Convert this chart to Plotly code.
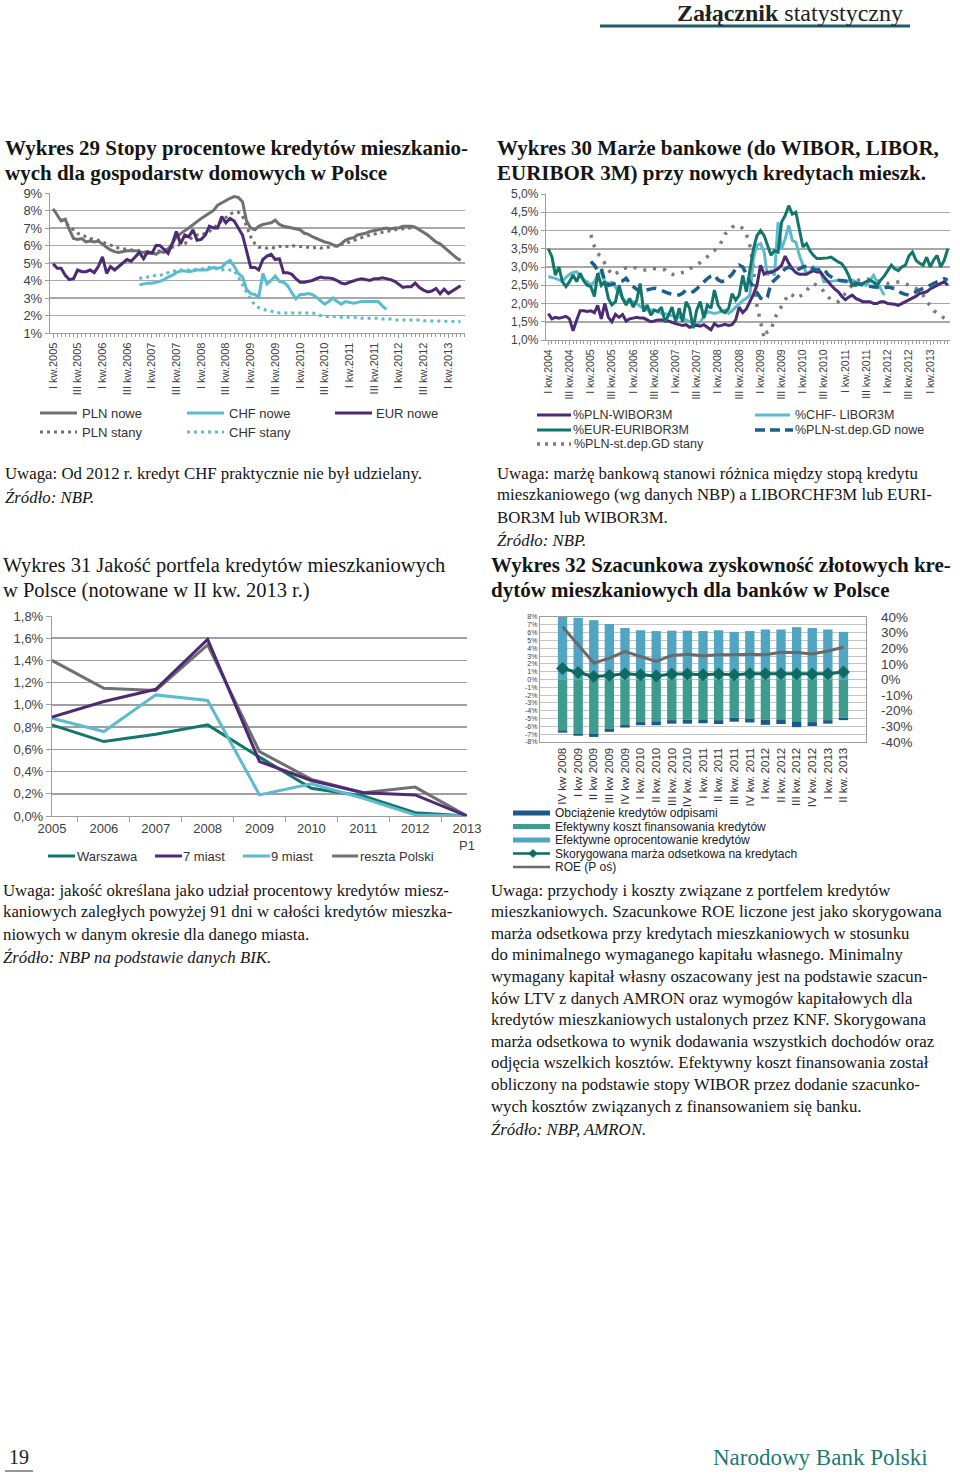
import plotly.graph_objects as go
import pandas as pd

W, H = 960, 1474
SANS = "Liberation Sans, Arial, sans-serif"
SERIF = "Liberation Serif, Times New Roman, serif"

GRAY = "#6f7072"
LBLUE = "#5dbbd0"
PURPLE = "#4e2a74"
TEAL = "#13766a"
DBLUE = "#1c5f8f"
DOTGRAY = "#7b7b7b"
BAR_LB = "#4fa5c2"
BAR_TE = "#3d9c8d"
BAR_DB = "#1a5a88"
NBP_TEAL = "#1f7a70"

# ================= Wykres 29 (monthly, from I 2005) =================
W29_START = "2005-01-01"
PLN_NOWE = [8.1, 7.7, 7.4, 7.5, 6.9, 6.4, 6.35, 6.4, 6.2, 6.25,
            6.2, 6.25, 6.1, 5.9, 5.75, 5.65, 5.6, 5.65, 5.7, 5.7,
            5.7, 5.65, 5.6, 5.55, 5.6, 5.5, 5.65, 5.6, 5.8, 6.1,
            6.5, 6.7, 6.85, 7.0, 7.2, 7.4, 7.55, 7.7, 7.85, 8.0,
            8.3, 8.45, 8.55, 8.7, 8.8, 8.75, 8.5, 7.4, 7.0, 6.9,
            7.1, 7.2, 7.25, 7.3, 7.45, 7.2, 7.1, 7.05, 7.0, 6.95,
            6.9, 6.7, 6.65, 6.5, 6.4, 6.3, 6.2, 6.15, 6.05, 5.95,
            6.1, 6.3, 6.4, 6.45, 6.6, 6.65, 6.7, 6.8, 6.85, 6.9,
            6.95, 7.0, 6.95, 7.0, 7.0, 7.1, 7.1, 7.1, 7.05, 6.9,
            6.8, 6.6, 6.4, 6.2, 6.1, 5.9, 5.7, 5.5, 5.3, 5.15]
EUR_NOWE = [4.95, 4.7, 4.7, 4.3, 4.05, 4.1, 4.6, 4.5, 4.5, 4.6,
            4.45, 4.8, 5.35, 4.4, 4.8, 4.6, 4.8, 5.0, 5.2, 5.1,
            5.35, 5.6, 5.25, 5.65, 5.55, 6.0, 6.0, 5.75, 5.55, 6.1,
            6.8, 6.1, 6.6, 6.5, 6.9, 6.3, 6.35, 6.6, 7.1, 7.0,
            7.0, 7.65, 7.3, 7.55, 7.4, 7.0, 6.6, 5.7, 4.75, 4.75,
            4.6, 5.2, 5.4, 5.5, 5.2, 5.25, 4.45, 4.45, 4.35, 4.1,
            3.9, 3.9, 3.95, 4.0, 4.1, 4.2, 4.15, 4.15, 4.1, 4.0,
            3.85, 3.8, 3.9, 4.0, 4.05, 4.1, 4.05, 4.0, 4.1, 4.1,
            4.15, 4.1, 4.05, 3.95, 3.8, 3.6, 3.65, 3.65, 3.85, 3.6,
            3.45, 3.35, 3.4, 3.55, 3.25, 3.5, 3.25, 3.4, 3.55, 3.7]
PLN_STANY_START = "2005-03-01"
PLN_STANY = [7.5, 7.3, 7.1, 6.9, 6.7, 6.6, 6.5, 6.4,
             6.35, 6.3, 6.2, 6.1, 6.0, 5.9, 5.85, 5.8, 5.8, 5.75,
             5.75, 5.7, 5.65, 5.6, 5.6, 5.65, 5.7, 5.75, 5.8, 5.9,
             6.0, 6.05, 6.1, 6.3, 6.5, 6.6, 6.6, 6.7, 6.8, 7.0,
             7.2, 7.4, 7.6, 7.8, 7.9, 7.9, 7.7, 7.1, 6.5, 6.1,
             5.9, 5.9, 5.85, 5.9, 5.85, 5.95, 5.9, 5.95, 6.0, 5.95,
             5.95, 5.9, 5.9, 5.85, 5.9, 5.85, 5.9, 5.9, 5.95, 6.0,
             6.05, 6.1, 6.2, 6.3, 6.35, 6.45, 6.5, 6.6, 6.65, 6.7,
             6.75, 6.8, 6.85, 6.9, 6.9, 6.95, 7.0, 7.0, 7.0]
CHF_START = "2006-10-01"
CHF_NOWE = [3.75, 3.8, 3.85, 3.85, 3.9, 3.95, 4.05, 4.2, 4.3,
            4.45, 4.55, 4.55, 4.5, 4.55, 4.6, 4.6, 4.6, 4.65, 4.75,
            4.7, 4.75, 5.0, 5.15, 4.8, 4.4, 4.2, 3.5, 3.25, 3.2,
            3.05, 4.4, 3.8, 4.0, 4.25, 3.95, 3.9, 3.7, 3.3, 2.95,
            3.2, 3.2, 3.25, 3.2, 3.05, 2.85, 2.65, 2.8, 3.0, 2.8,
            2.65, 2.8, 2.75, 2.7, 2.75, 2.8, 2.8, 2.8, 2.8, 2.8,
            2.55, 2.35]
CHF_STANY = [4.1, 4.2, 4.2, 4.25, 4.3, 4.3, 4.35, 4.45, 4.55,
             4.55, 4.6, 4.6, 4.6, 4.6, 4.65, 4.65, 4.7, 4.75, 4.7,
             4.65, 4.6, 4.65, 4.6, 4.55, 4.2, 3.75, 3.3, 2.9, 2.6,
             2.45, 2.35, 2.3, 2.25, 2.2, 2.15, 2.15, 2.15, 2.15, 2.15,
             2.15, 2.15, 2.15, 2.15, 2.1, 2.0, 1.95, 1.95, 1.95, 1.95,
             1.9, 1.9, 1.9, 1.9, 1.9, 1.85, 1.85, 1.85, 1.85, 1.85,
             1.8, 1.8, 1.8, 1.75, 1.75, 1.75, 1.75, 1.75, 1.75, 1.75,
             1.7, 1.7, 1.7, 1.7, 1.7, 1.7, 1.7, 1.68, 1.66, 1.65]
W29_TICKVALS = [f"{y}-{m}-01" for y in range(2005, 2014) for m in ("01", "07")][:-1]
W29_TICKTEXT = [f"{q} kw.{y}" for y in range(2005, 2014) for q in ("I", "III")][:-1]
W29_YVALS = [1, 2, 3, 4, 5, 6, 7, 8, 9]
W29_YTEXT = ["1%", "2%", "3%", "4%", "5%", "6%", "7%", "8%", "9%"]

# ================= Wykres 30 (monthly, from I 2004) =================
W30_START = "2004-01-01"
WIBOR = [1.72, 1.58, 1.62, 1.6, 1.62, 1.65, 1.58, 1.25, 1.55, 1.8,
         1.8, 1.78, 1.8, 1.75, 1.95, 1.58, 2.0, 1.62, 1.5, 1.7,
         1.62, 1.7, 1.52, 1.58, 1.6, 1.62, 1.6, 1.6, 1.55, 1.5,
         1.52, 1.55, 1.55, 1.52, 1.52, 1.48, 1.45, 1.42, 1.4, 1.42,
         1.35, 1.38, 1.4, 1.38, 1.42, 1.35, 1.28, 1.45, 1.38, 1.4,
         1.43, 1.4, 1.42, 1.55, 1.9, 1.75, 1.85, 2.05, 2.25, 2.5,
         3.05, 2.8, 2.86, 2.85, 2.9, 2.95, 3.05, 3.3, 3.1, 2.95,
         2.85, 2.8, 2.8, 2.8, 2.85, 2.9, 2.86, 2.86, 2.73, 2.6,
         2.5, 2.4, 2.32, 2.2, 2.1, 2.18, 2.23, 2.14, 2.1, 2.05,
         2.05, 2.05, 2.0, 2.0, 2.05, 2.05, 2.0, 2.0, 1.98, 1.95,
         2.0, 2.05, 2.1, 2.14, 2.2, 2.27, 2.3, 2.32, 2.4, 2.45,
         2.5, 2.55, 2.6, 2.5]
EURIBOR = [3.5, 3.28, 2.78, 3.0, 2.6, 2.46, 2.6, 2.78, 2.6, 2.83,
           2.62, 2.5, 2.46, 2.19, 2.83, 2.5, 2.6, 2.14, 1.96, 2.05,
           2.5, 2.14, 1.96, 2.14, 1.9, 2.1, 2.55, 1.78, 1.96, 1.68,
           1.82, 1.78, 1.9, 1.5, 1.68, 1.9, 1.5, 1.87, 1.5, 2.05,
           1.87, 1.32, 1.82, 2.05, 1.6, 1.96, 1.87, 2.37, 1.96, 1.8,
           1.75, 1.86, 2.27, 2.09, 2.23, 2.77, 2.32, 2.95, 3.5, 3.86,
           4.0, 3.86, 3.59, 3.32, 3.45, 3.41, 4.23, 4.41, 4.68, 4.45,
           4.5, 4.05, 3.55, 3.64, 3.45, 3.32, 3.23, 3.23, 3.25, 3.25,
           3.27, 3.2, 3.14, 3.09, 2.95, 2.75, 2.5, 2.5, 2.52, 2.55,
           2.6, 2.64, 2.58, 2.5, 2.64, 2.75, 2.9, 3.05, 2.95, 2.9,
           3.0, 3.05, 3.3, 3.41, 3.18, 3.1, 3.05, 3.27, 3.0, 3.2,
           3.32, 3.0, 3.18, 3.5]
LIBOR_CHF = [2.74, 2.72, 2.69, 2.65, 2.6, 2.72, 2.8, 2.85, 2.87, 2.75,
             2.65, 2.6, 2.5, 2.6, 2.78, 2.87, 2.6, 2.55, 2.58, 2.45,
             2.3, 2.15, 2.05, 2.05, 2.05, 2.0, 1.92, 1.88, 1.82, 1.82,
             1.82, 1.78, 1.73, 1.72, 1.7, 1.68, 1.65, 1.62, 1.6, 1.55,
             1.5, 1.45, 1.41, 1.5, 1.65, 1.78, 1.75, 1.73, 1.75, 1.78,
             1.82, 1.73, 1.8, 1.9, 2.0, 2.08, 2.14, 2.23, 3.23, 3.59,
             3.64, 3.41, 2.77, 2.9, 2.77, 4.23, 3.5, 3.77, 4.14, 3.73,
             3.68, 3.32, 3.05, 2.82, 2.86, 3.0, 2.95, 2.86, 2.59, 2.6,
             2.59, 2.62, 2.64, 2.6, 2.59, 2.62, 2.64, 2.6, 2.55, 2.52,
             2.5, 2.65, 2.77, 2.59, 2.4, 2.23]
GD_START = "2005-01-01"
GD_NOWE = [3.15, 3.05, 2.9, 2.96, 2.6, 2.5, 2.52, 2.55,
           2.6, 2.62, 2.69, 2.55, 2.46, 2.38, 2.32, 2.35, 2.37, 2.4,
           2.42, 2.4, 2.37, 2.32, 2.28, 2.25, 2.23, 2.23, 2.28, 2.37,
           2.35, 2.32, 2.4, 2.5, 2.6, 2.68, 2.75, 2.78, 2.65, 2.6,
           2.62, 2.7, 2.8, 2.95, 3.05, 3.0, 2.77, 2.6, 2.45, 2.32,
           2.15, 2.1, 2.18, 2.55, 2.64, 2.73, 2.86, 2.95, 3.0, 2.95,
           2.91, 2.95, 3.0, 3.02, 3.05, 2.95, 2.91, 2.93, 2.95, 2.8,
           2.72, 2.66, 2.64, 2.64, 2.62, 2.59, 2.57, 2.55, 2.52, 2.5,
           2.47, 2.45, 2.45, 2.45, 2.41, 2.43, 2.45, 2.43, 2.41, 2.35,
           2.28, 2.25, 2.23, 2.28, 2.32, 2.37, 2.41, 2.46, 2.5, 2.55,
           2.59, 2.65, 2.68, 2.64]
GD_STANY = [3.88, 3.56, 3.37, 3.28, 3.1, 2.92, 2.78, 2.82,
            2.87, 2.96, 2.96, 2.98, 3.0, 2.96, 2.92, 2.92, 2.92, 2.96,
            2.96, 2.96, 2.94, 2.92, 2.83, 2.8, 2.78, 2.83, 2.85, 2.87,
            2.95, 3.0, 3.05, 3.12, 3.2, 3.28, 3.35, 3.45, 3.56, 3.7,
            3.9, 4.0, 4.09, 4.14, 4.14, 4.05, 3.9, 3.59, 2.95, 1.95,
            1.45, 1.05, 1.23, 1.27, 1.59, 1.77, 1.95, 2.1, 2.27, 2.23,
            2.14, 2.2, 2.23, 2.36, 2.45, 2.55, 2.5, 2.45, 2.32, 2.2,
            2.09, 2.05, 2.05, 2.15, 2.3, 2.41, 2.5, 2.59, 2.65, 2.68,
            2.68, 2.66, 2.64, 2.62, 2.59, 2.57, 2.55, 2.57, 2.59, 2.59,
            2.59, 2.55, 2.5, 2.45, 2.41, 2.32, 2.23, 2.05, 1.95, 1.8,
            1.73, 1.68, 1.6, 1.55]
W30_TICKVALS = [f"{y}-{m}-01" for y in range(2004, 2014) for m in ("01", "07")][:-1]
W30_TICKTEXT = [f"{q} kw.{y}" for y in range(2004, 2014) for q in ("I", "III")][:-1]
W30_YVALS = [1.0, 1.5, 2.0, 2.5, 3.0, 3.5, 4.0, 4.5, 5.0]
W30_YTEXT = ["1,0%", "1,5%", "2,0%", "2,5%", "3,0%", "3,5%", "4,0%", "4,5%", "5,0%"]

# ================= Wykres 31 =================
LATA = ["2005", "2006", "2007", "2008", "2009", "2010", "2011", "2012", "2013<br>P1"]
WARSZAWA = [0.82, 0.67, 0.735, 0.82, 0.53, 0.25, 0.18, 0.03, 0.0]
MIAST7 = [0.89, 1.03, 1.14, 1.59, 0.49, 0.32, 0.21, 0.19, 0.0]
MIAST9 = [0.88, 0.76, 1.09, 1.04, 0.19, 0.29, 0.16, 0.01, 0.0]
RESZTA = [1.40, 1.15, 1.13, 1.54, 0.58, 0.33, 0.21, 0.26, 0.0]
W31_YVALS = [0, 0.2, 0.4, 0.6, 0.8, 1.0, 1.2, 1.4, 1.6, 1.8]
W31_YTEXT = ["0,0%", "0,2%", "0,4%", "0,6%", "0,8%", "1,0%", "1,2%", "1,4%", "1,6%", "1,8%"]

# ================= Wykres 32 =================
KW32 = ["IV kw 2008", "I kw 2009", "II kw 2009", "III kw 2009", "IV kw 2009",
        "I kw. 2010", "II kw. 2010", "III kw. 2010", "IV kw. 2010", "I kw. 2011",
        "II kw. 2011", "III kw. 2011", "IV kw. 2011", "I kw. 2012", "II kw. 2012",
        "III kw. 2012", "IV kw. 2012", "I kw. 2013", "II kw. 2013"]
OPROC = [8.0, 7.9, 7.6, 7.1, 6.6, 6.3, 6.2, 6.25, 6.25, 6.2, 6.3, 6.1, 6.2, 6.4, 6.4, 6.7, 6.6, 6.4, 6.1]
KOSZT = [-6.5, -6.9, -6.9, -6.3, -5.75, -5.45, -5.35, -5.2, -5.15, -5.1, -5.2, -4.9, -5.0, -5.15, -5.1, -5.35, -5.45, -5.2, -4.9]
ODPISY = [-0.3, -0.3, -0.45, -0.4, -0.4, -0.4, -0.5, -0.45, -0.5, -0.5, -0.5, -0.5, -0.5, -0.65, -0.6, -0.75, -0.5, -0.45, -0.3]
MARZA = [1.4, 0.9, 0.4, 0.5, 0.75, 0.6, 0.45, 0.7, 0.7, 0.6, 0.7, 0.6, 0.75, 0.75, 0.75, 0.7, 0.7, 0.75, 0.95]
ROE = [33.7, 22.0, 10.5, 13.7, 17.9, 14.7, 11.6, 15.4, 16.2, 15.2, 15.8, 15.8, 16.2, 15.8, 17.5, 17.3, 16.4, 18.3, 20.6]
W32_LVALS = list(range(-8, 9))
W32_LTEXT = [f"{v}%" for v in W32_LVALS]
W32_RVALS = [-40, -30, -20, -10, 0, 10, 20, 30, 40]
W32_RTEXT = [f"{v}%" for v in W32_RVALS]


def months(start, n):
    return pd.date_range(start, periods=n, freq="MS")


def xd(a, b):
    return [a / W, b / W]


def yd(top, bottom):
    return [1 - bottom / H, 1 - top / H]


fig = go.Figure()

# ---- chart 29 traces
fig.add_trace(go.Scatter(x=months(PLN_STANY_START, len(PLN_STANY)), y=PLN_STANY, mode="lines",
                         line=dict(color=GRAY, width=3, dash="3px,4px"), xaxis="x", yaxis="y", name="PLN stany"))
fig.add_trace(go.Scatter(x=months(CHF_START, len(CHF_STANY)), y=CHF_STANY, mode="lines",
                         line=dict(color=LBLUE, width=3, dash="3px,4px"), xaxis="x", yaxis="y", name="CHF stany"))
fig.add_trace(go.Scatter(x=months(W29_START, len(PLN_NOWE)), y=PLN_NOWE, mode="lines",
                         line=dict(color=GRAY, width=3), xaxis="x", yaxis="y", name="PLN nowe"))
fig.add_trace(go.Scatter(x=months(CHF_START, len(CHF_NOWE)), y=CHF_NOWE, mode="lines",
                         line=dict(color=LBLUE, width=3), xaxis="x", yaxis="y", name="CHF nowe"))
fig.add_trace(go.Scatter(x=months(W29_START, len(EUR_NOWE)), y=EUR_NOWE, mode="lines",
                         line=dict(color=PURPLE, width=3), xaxis="x", yaxis="y", name="EUR nowe"))

# ---- chart 30 traces
fig.add_trace(go.Scatter(x=months(GD_START, len(GD_STANY)), y=GD_STANY, mode="lines",
                         line=dict(color=DOTGRAY, width=3.5, dash="3px,7px"), xaxis="x2", yaxis="y2",
                         name="%PLN-st.dep.GD stany"))
fig.add_trace(go.Scatter(x=months(W30_START, len(LIBOR_CHF)), y=LIBOR_CHF, mode="lines",
                         line=dict(color=LBLUE, width=3), xaxis="x2", yaxis="y2", name="%CHF- LIBOR3M"))
fig.add_trace(go.Scatter(x=months(W30_START, len(WIBOR)), y=WIBOR, mode="lines",
                         line=dict(color=PURPLE, width=3), xaxis="x2", yaxis="y2", name="%PLN-WIBOR3M"))
fig.add_trace(go.Scatter(x=months(GD_START, len(GD_NOWE)), y=GD_NOWE, mode="lines",
                         line=dict(color=DBLUE, width=3.5, dash="10px,6px"), xaxis="x2", yaxis="y2",
                         name="%PLN-st.dep.GD nowe"))
fig.add_trace(go.Scatter(x=months(W30_START, len(EURIBOR)), y=EURIBOR, mode="lines",
                         line=dict(color=TEAL, width=3), xaxis="x2", yaxis="y2", name="%EUR-EURIBOR3M"))

# ---- chart 31 traces
for vals, col, nm in [(WARSZAWA, TEAL, "Warszawa"), (MIAST9, LBLUE, "9 miast"),
                      (RESZTA, GRAY, "reszta Polski"), (MIAST7, PURPLE, "7 miast")]:
    fig.add_trace(go.Scatter(x=LATA, y=vals, mode="lines", line=dict(color=col, width=3),
                             xaxis="x3", yaxis="y3", name=nm))

# ---- chart 32 traces
fig.add_trace(go.Bar(x=KW32, y=OPROC, marker=dict(color=BAR_LB, line=dict(width=0)), width=0.6,
                     xaxis="x4", yaxis="y4", name="Efektywne oprocentowanie kredytów"))
fig.add_trace(go.Bar(x=KW32, y=KOSZT, marker=dict(color=BAR_TE, line=dict(width=0)), width=0.6,
                     xaxis="x4", yaxis="y4", name="Efektywny koszt finansowania kredytów"))
fig.add_trace(go.Bar(x=KW32, y=ODPISY, marker=dict(color=BAR_DB, line=dict(width=0)), width=0.6,
                     xaxis="x4", yaxis="y4", name="Obciążenie kredytów odpisami"))
fig.add_trace(go.Scatter(x=KW32, y=MARZA, mode="lines+markers", line=dict(color="#0f6b5f", width=3),
                         marker=dict(symbol="diamond", size=10, color="#0f6b5f"),
                         xaxis="x4", yaxis="y4", name="Skorygowana marża odsetkowa na kredytach"))
fig.add_trace(go.Scatter(x=KW32, y=ROE, mode="lines", line=dict(color="#6a6a6a", width=3),
                         xaxis="x4", yaxis="y5", name="ROE (P oś)"))

AX = dict(showline=True, linecolor="#9c9c9c", linewidth=1.2, ticks="outside", tickcolor="#9c9c9c",
          zeroline=False, fixedrange=True, automargin=False)
TICKF = dict(family=SANS, size=13, color="#404040")

layout = dict(
    width=W, height=H, margin=dict(l=0, r=0, t=0, b=0, pad=0, autoexpand=False), showlegend=False,
    paper_bgcolor="white", plot_bgcolor="white", barmode="relative", hovermode=False,
    xaxis=dict(AX, domain=xd(50, 465), anchor="y", type="date",
               range=["2004-12-09", "2013-05-04"], tickmode="array", tickvals=W29_TICKVALS,
               ticktext=W29_TICKTEXT, tickangle=-90, ticklen=4, showgrid=False,
               tickfont=dict(family=SANS, size=11, color="#404040"),
               minor=dict(ticks="outside", ticklen=3, dtick="M1", tick0="2005-01-01",
                          tickcolor="#9c9c9c", showgrid=False)),
    yaxis=dict(AX, domain=yd(193, 333), anchor="x", range=[1, 9], tickmode="array",
               tickvals=W29_YVALS, ticktext=W29_YTEXT, ticklen=4, showgrid=True,
               gridcolor="#a8a8a8", gridwidth=1.5, tickfont=TICKF),
    xaxis2=dict(AX, domain=xd(546, 950), anchor="y2", type="date",
                range=["2003-12-12", "2013-06-20"], tickmode="array", tickvals=W30_TICKVALS,
                ticktext=W30_TICKTEXT, tickangle=-90, ticklen=4, showgrid=False,
                tickfont=dict(family=SANS, size=10.5, color="#404040"),
                minor=dict(ticks="outside", ticklen=3, dtick="M1", tick0="2004-01-01",
                           tickcolor="#9c9c9c", showgrid=False)),
    yaxis2=dict(AX, domain=yd(194, 340), anchor="x2", range=[1, 5], tickmode="array",
                tickvals=W30_YVALS, ticktext=W30_YTEXT, ticklen=4, showgrid=True,
                gridcolor="#a8a8a8", gridwidth=1.5, tickfont=dict(family=SANS, size=12, color="#404040")),
    xaxis3=dict(AX, domain=xd(52, 467), anchor="y3", type="category", tickson="boundaries",
                ticklen=5, showgrid=False, tickfont=TICKF),
    yaxis3=dict(AX, domain=yd(616, 816), anchor="x3", range=[0, 1.8], tickmode="array",
                tickvals=W31_YVALS, ticktext=W31_YTEXT, ticklen=5, showgrid=True,
                gridcolor="#a0a0a0", gridwidth=1.5, tickfont=TICKF),
    xaxis4=dict(AX, domain=xd(540, 866), anchor="y4", type="category", mirror=True, ticks="",
                tickangle=-90, showgrid=False, tickfont=dict(family=SANS, size=11.5, color="#333")),
    yaxis4=dict(AX, domain=yd(617, 742), anchor="x4", range=[-8, 8], tickmode="array",
                tickvals=W32_LVALS, ticktext=W32_LTEXT, mirror=True, ticks="", showgrid=True,
                gridcolor="#c4c4c4", gridwidth=1, tickfont=dict(family=SANS, size=7, color="#404040")),
    yaxis5=dict(AX, overlaying="y4", anchor="x4", side="right", range=[-40, 40], tickmode="array",
                tickvals=W32_RVALS, ticktext=W32_RTEXT, ticks="", showline=False, showgrid=False,
                ticklabelstandoff=14, tickfont=dict(family=SANS, size=13.5, color="#404040")),
)

shapes = []
annotations = []


def T(x, y, s, size=16.8, family=SERIF, color="#151515", xanchor="left"):
    annotations.append(dict(x=x / W, y=1 - y / H, xref="paper", yref="paper", text=s, showarrow=False,
                            xanchor=xanchor, yanchor="middle", align="left",
                            font=dict(family=family, size=size, color=color)))


def L(x0, x1, y, color, width=3, dash="solid"):
    shapes.append(dict(type="line", xref="paper", yref="paper", x0=x0 / W, x1=x1 / W,
                       y0=1 - y / H, y1=1 - y / H, line=dict(color=color, width=width, dash=dash)))


# header
T(905, 13, "<b>Załącznik</b> statystyczny", size=24, xanchor="right", color="#222")
L(600, 910, 26, "#1f5d66", width=3)

# titles
TS = 21
T(3, 148, "<b>Wykres 29 Stopy procentowe kredytów mieszkanio-</b>", size=TS)
T(3, 173, "<b>wych dla gospodarstw domowych w Polsce</b>", size=TS)
T(495, 148, "<b>Wykres 30 Marże bankowe (do WIBOR, LIBOR,</b>", size=TS)
T(495, 173, "<b>EURIBOR 3M) przy nowych kredytach mieszk.</b>", size=TS)

# legend chart 29
LF = 13
L(40, 77, 413, GRAY)
T(80, 413, "PLN nowe", LF, SANS, "#333")
L(187, 224, 413, LBLUE)
T(227, 413, "CHF nowe", LF, SANS, "#333")
L(335, 372, 413, PURPLE)
T(374, 413, "EUR nowe", LF, SANS, "#333")
L(40, 77, 432, GRAY, dash="3px,4px")
T(80, 432, "PLN stany", LF, SANS, "#333")
L(187, 224, 432, LBLUE, dash="3px,4px")
T(227, 432, "CHF stany", LF, SANS, "#333")

# legend chart 30
LF3 = 12.5
L(537, 571, 415, PURPLE)
T(571, 415, "%PLN-WIBOR3M", LF3, SANS, "#333")
L(537, 571, 430, TEAL)
T(571, 430, "%EUR-EURIBOR3M", LF3, SANS, "#333")
L(537, 571, 444, DOTGRAY, width=3.5, dash="3px,5px")
T(572, 444, "%PLN-st.dep.GD stany", LF3, SANS, "#333")
L(755, 790, 415, LBLUE)
T(793, 415, "%CHF- LIBOR3M", LF3, SANS, "#333")
L(755, 793, 430, DBLUE, width=3.5, dash="10px,5px")
T(793, 430, "%PLN-st.dep.GD nowe", LF3, SANS, "#333")

# notes 29/30
T(3, 474, "Uwaga: Od 2012 r. kredyt CHF praktycznie nie był udzielany.")
T(3, 497, "<i>Źródło: NBP.</i>")
T(495, 474, "Uwaga: marżę bankową stanowi różnica między stopą kredytu")
T(495, 495, "mieszkaniowego (wg danych NBP) a LIBORCHF3M lub EURI-")
T(495, 517, "BOR3M lub WIBOR3M.")
T(495, 540, "<i>Źródło: NBP.</i>")

# titles 31/32
T(1, 565, "Wykres 31 Jakość portfela kredytów mieszkaniowych", size=20.5)
T(1, 590, "w Polsce (notowane w II kw. 2013 r.)", size=20.5)
T(489, 565, "<b>Wykres 32 Szacunkowa zyskowność złotowych kre-</b>", size=TS)
T(489, 590, "<b>dytów mieszkaniowych dla banków w Polsce</b>", size=TS)

# legend chart 31
L(48, 75, 856, TEAL)
T(75, 856, "Warszawa", LF, SANS, "#333")
L(155, 182, 856, PURPLE)
T(181, 856, "7 miast", LF, SANS, "#333")
L(243, 270, 856, LBLUE)
T(269, 856, "9 miast", LF, SANS, "#333")
L(332, 358, 856, GRAY)
T(358, 856, "reszta Polski", LF, SANS, "#333")

# legend chart 32
LF2 = 12
ROWS = [813, 826.5, 840, 853.5, 867]
L(513, 550, ROWS[0], BAR_DB, width=5)
T(553, ROWS[0], "Obciążenie kredytów odpisami", LF2, SANS, "#222")
L(513, 550, ROWS[1], BAR_TE, width=5)
T(553, ROWS[1], "Efektywny koszt finansowania kredytów", LF2, SANS, "#222")
L(513, 550, ROWS[2], BAR_LB, width=5)
T(553, ROWS[2], "Efektywne oprocentowanie kredytów", LF2, SANS, "#222")
L(513, 550, ROWS[3], "#0f6b5f", width=2.5)
cx, cy, r = 533, ROWS[3], 4
shapes.append(dict(type="path", xref="paper", yref="paper",
                   path=f"M {cx / W},{1 - (cy - r) / H} L {(cx + r) / W},{1 - cy / H} "
                        f"L {cx / W},{1 - (cy + r) / H} L {(cx - r) / W},{1 - cy / H} Z",
                   fillcolor="#0f6b5f", line=dict(color="#0f6b5f", width=1)))
T(553, ROWS[3], "Skorygowana marża odsetkowa na kredytach", LF2, SANS, "#222")
L(513, 550, ROWS[4], "#6a6a6a", width=2.5)
T(553, ROWS[4], "ROE (P oś)", LF2, SANS, "#222")

# notes 31
T(1, 890, "Uwaga: jakość określana jako udział procentowy kredytów miesz-")
T(1, 912, "kaniowych zaległych powyżej 91 dni w całości kredytów mieszka-")
T(1, 934, "niowych w danym okresie dla danego miasta.")
T(1, 957, "<i>Źródło: NBP na podstawie danych BIK.</i>")

# notes 32
notes32 = [
    "Uwaga: przychody i koszty związane z portfelem kredytów",
    "mieszkaniowych. Szacunkowe ROE liczone jest jako skorygowana",
    "marża odsetkowa przy kredytach mieszkaniowych w stosunku",
    "do minimalnego wymaganego kapitału własnego. Minimalny",
    "wymagany kapitał własny oszacowany jest na podstawie szacun-",
    "ków LTV z danych AMRON oraz wymogów kapitałowych dla",
    "kredytów mieszkaniowych ustalonych przez KNF. Skorygowana",
    "marża odsetkowa to wynik dodawania wszystkich dochodów oraz",
    "odjęcia wszelkich kosztów. Efektywny koszt finansowania został",
    "obliczony na podstawie stopy WIBOR przez dodanie szacunko-",
    "wych kosztów związanych z finansowaniem się banku.",
]
for i, s in enumerate(notes32):
    T(489, 890 + i * 21.6, s)
T(489, 1129, "<i>Źródło: NBP, AMRON.</i>")

# footer
T(7, 1457, "19", size=20, color="#222")
L(5, 33, 1471, "#333", width=1)
T(930, 1457, "Narodowy Bank Polski", size=23, color=NBP_TEAL, xanchor="right")

layout["shapes"] = shapes
layout["annotations"] = annotations
fig.update_layout(**layout)
fig.write_html("out.html", config={"displayModeBar": False, "staticPlot": True},
               post_script="document.body.style.margin='0px';document.body.style.overflow='hidden';")
